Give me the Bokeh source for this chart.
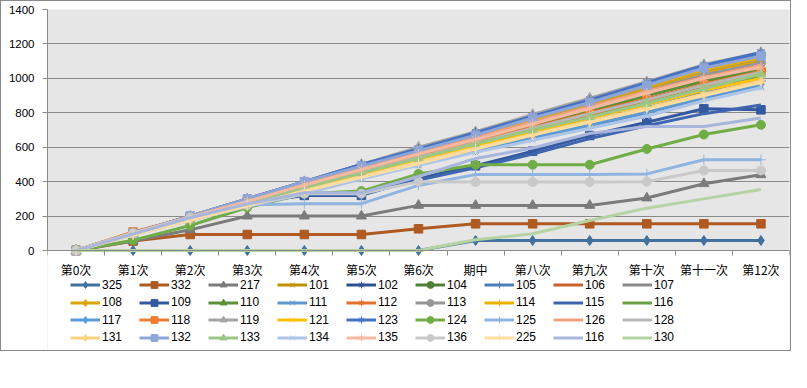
from bokeh.plotting import figure
from bokeh.models import Range1d, FixedTicker, Legend, LegendItem, BoxAnnotation
from bokeh.embed import file_html
from bokeh.resources import INLINE

# ---------------- data ----------------
categories = ["第0次", "第1次", "第2次", "第3次", "第4次", "第5次", "第6次",
              "期中", "第八次", "第九次", "第十次", "第十一次", "第12次"]

series_names = ["325", "332", "217", "101", "102", "104", "105", "106", "107",
                "108", "109", "110", "111", "112", "113", "114", "115", "116",
                "117", "118", "119", "121", "123", "124", "125", "126", "128",
                "131", "132", "133", "134", "135", "136", "225", "116", "130"]

v325 = [0, 0, 0, 0, 0, 0, 0, 58, 58, 58, 58, 58, 58]
v332 = [0, 55, 93, 93, 93, 93, 126, 155, 155, 155, 155, 155, 155]
v217 = [0, 55, 120, 200, 200, 200, 262, 262, 262, 262, 305, 388, 440]
v101 = [0, 100, 200, 295, 390, 485, 575, 665, 760, 855, 950, 1045, 1115]
v102 = [0, 100, 200, 300, 400, 500, 590, 680, 775, 870, 965, 1065, 1145]
v104 = [0, 95, 190, 280, 370, 460, 550, 635, 725, 810, 900, 985, 1050]
v105 = [0, 95, 180, 265, 350, 435, 515, 595, 675, 750, 830, 915, 985]
v106 = [0, 95, 185, 275, 360, 445, 530, 615, 700, 785, 865, 950, 1020]
v107 = [0, 100, 200, 295, 390, 480, 570, 660, 755, 850, 945, 1040, 1110]
v108 = [0, 100, 195, 290, 385, 475, 565, 655, 745, 840, 935, 1030, 1100]
v109 = [0, 100, 195, 275, 320, 320, 418, 492, 577, 668, 745, 823, 817]
v110 = [0, 100, 195, 285, 375, 465, 555, 640, 730, 815, 900, 985, 1055]
v111 = [0, 95, 175, 260, 340, 420, 500, 580, 655, 725, 800, 885, 955]
v112 = [0, 100, 190, 280, 370, 455, 545, 630, 715, 800, 880, 965, 1040]
v113 = [0, 100, 195, 290, 380, 470, 560, 650, 740, 835, 925, 1020, 1090]
v114 = [0, 100, 200, 300, 390, 490, 580, 670, 765, 860, 955, 1050, 1120]
v115 = [0, 100, 190, 270, 325, 325, 410, 480, 560, 650, 725, 795, 845]
v116a = [0, 95, 185, 270, 355, 440, 525, 610, 695, 775, 855, 940, 1010]
v117 = [0, 95, 180, 260, 345, 425, 505, 585, 660, 735, 810, 895, 965]
v118 = [0, 108, 195, 285, 370, 460, 545, 630, 715, 795, 875, 965, 1040]
v119 = [0, 100, 200, 300, 400, 500, 600, 690, 790, 885, 980, 1080, 1150]
v121 = [0, 95, 185, 270, 355, 440, 525, 605, 690, 770, 850, 930, 1000]
v123 = [0, 100, 200, 300, 400, 500, 590, 685, 780, 875, 975, 1075, 1150]
v124 = [0, 60, 145, 250, 330, 345, 445, 498, 498, 498, 590, 674, 730]
v125 = [0, 95, 185, 265, 272, 272, 378, 441, 441, 441, 445, 527, 527]
v126 = [0, 100, 200, 290, 385, 475, 565, 655, 745, 835, 925, 1005, 1075]
v128 = [0, 100, 190, 280, 365, 455, 540, 625, 710, 795, 875, 960, 1035]
v131 = [0, 95, 180, 265, 350, 430, 515, 595, 675, 750, 830, 910, 985]
v132 = [0, 100, 200, 300, 400, 490, 580, 670, 770, 860, 960, 1060, 1130]
v133 = [0, 100, 190, 275, 365, 450, 535, 620, 700, 775, 855, 940, 1025]
v134 = [0, 90, 175, 255, 330, 415, 495, 570, 640, 710, 780, 870, 945]
v135 = [0, 100, 195, 285, 380, 470, 560, 645, 735, 825, 915, 1000, 1065]
v136 = [0, 100, 190, 265, 330, 330, 400, 398, 398, 398, 400, 465, 465]
v225 = [0, 90, 175, 260, 345, 425, 505, 590, 670, 745, 820, 900, 975]
v116b = [0, 95, 190, 270, 335, 335, 430, 535, 595, 680, 720, 720, 770]
v130 = [0, 0, 0, 0, 0, 0, 0, 62, 97, 174, 246, 300, 354]

series_values = [v325, v332, v217, v101, v102, v104, v105, v106, v107,
                 v108, v109, v110, v111, v112, v113, v114, v115, v116a,
                 v117, v118, v119, v121, v123, v124, v125, v126, v128,
                 v131, v132, v133, v134, v135, v136, v225, v116b, v130]

series_colors = ["#41719c", "#ae5a21", "#7b7b7b", "#bf9000", "#2f5090", "#507e32", "#4a7ebb", "#c9612b", "#8a8a8a",
                 "#dba509", "#335aa1", "#5e8f3a", "#5f97d0", "#e0712d", "#969696", "#ecb000", "#3e66af", "#6a9f45",
                 "#5b9bd5", "#ed7d31", "#a5a5a5", "#ffc000", "#4472c4", "#70ad47", "#8fb4e0", "#f2a07c", "#b7b7b7",
                 "#ffd27f", "#8ea5d8", "#9dc584", "#adc5e7", "#f5b9a0", "#c9c9c9", "#ffdca0", "#a8b6dd", "#b5d3a3"]

marker_cycle = ["diamond", "square", "triangle", "x", "asterisk", "circle", "cross", None, None]

y_max = 1400
y_ticks = list(range(0, 1401, 200))

# ---------------- layout (pixels) ----------------
FRAME_W = 742
FRAME_H = 341          # frame extends below the value axis to host the legend
PLOT_H = 241           # pixel height of the 0..1400 value band
y_start = -(FRAME_H - PLOT_H) * y_max / PLOT_H

p = figure(frame_width=FRAME_W, frame_height=FRAME_H, output_backend="svg", toolbar_location=None,
           x_range=Range1d(-0.5, 12.5), y_range=Range1d(y_start, y_max),
           min_border_left=46, min_border_right=1, min_border_top=8, min_border_bottom=0)
p.styles = {"border": "1px solid #8a8a8a"}
p.background_fill_color = "#e7e6e6"
p.border_fill_color = "white"
p.outline_line_color = None

# white area below the value band (legend zone)
p.add_layout(BoxAnnotation(bottom=y_start, top=0, fill_color="white", fill_alpha=1.0,
                           line_color=None, level="underlay"))

p.xgrid.grid_line_color = None
p.ygrid.grid_line_color = "#8a8a8a"
p.ygrid.grid_line_width = 1

p.yaxis.ticker = FixedTicker(ticks=y_ticks)
p.yaxis.bounds = (0, y_max)
p.yaxis.axis_line_color = "#8a8a8a"
p.yaxis.major_tick_line_color = "#8a8a8a"
p.yaxis.major_tick_out = 5
p.yaxis.major_tick_in = 0
p.yaxis.minor_tick_line_color = None
p.yaxis.major_label_standoff = 8
p.yaxis.major_label_text_font = "Liberation Sans"
p.yaxis.major_label_text_font_size = "11.5px"
p.yaxis.major_label_text_color = "#000000"

xi = list(range(len(categories)))
p.xaxis.fixed_location = 0
p.xaxis.ticker = FixedTicker(ticks=xi, minor_ticks=[i - 0.5 for i in range(len(categories) + 1)])
p.xaxis.major_label_overrides = {i: c for i, c in enumerate(categories)}
p.xaxis.axis_line_color = "#8a8a8a"
p.xaxis.major_tick_line_color = None
p.xaxis.major_tick_out = 0
p.xaxis.major_tick_in = 0
p.xaxis.minor_tick_line_color = "#8a8a8a"
p.xaxis.minor_tick_out = 5
p.xaxis.minor_tick_in = 0
p.xaxis.major_label_standoff = 5
p.xaxis.major_label_text_font = "Noto Sans CJK SC"
p.xaxis.major_label_text_font_size = "12px"
p.xaxis.major_label_text_color = "#000000"

marker_sizes = {"diamond": 10, "square": 8.5, "triangle": 10, "x": 9, "asterisk": 10, "circle": 9, "cross": 10}

items = []
for k, (name, vals, col) in enumerate(zip(series_names, series_values, series_colors)):
    mk = marker_cycle[k % 9]
    rl = p.line(xi, vals, line_color=col, line_width=3, line_join="round")
    rends = [rl]
    if mk is not None:
        if mk in ("x", "asterisk", "cross"):
            rs = p.scatter(xi, vals, marker=mk, size=marker_sizes[mk], line_color=col, line_width=1)
        else:
            rs = p.scatter(xi, vals, marker=mk, size=marker_sizes[mk], fill_color=col, line_color=col, line_width=1)
        rends.append(rs)
    items.append(LegendItem(label=name, renderers=rends))

legend_row_y = [57, 39.5, 22, 4.5]
for r in range(4):
    lg = Legend(items=items[r * 9:(r + 1) * 9], orientation="horizontal",
                location=(23, legend_row_y[r]), padding=0, margin=0, spacing=0,
                glyph_width=30, glyph_height=17, label_height=17, label_width=37,
                label_standoff=2, border_line_color=None, background_fill_alpha=0,
                label_text_font="Liberation Sans", label_text_font_size="12px",
                label_text_color="#000000")
    p.add_layout(lg)

open("out.html", "w").write(file_html(p, INLINE))
